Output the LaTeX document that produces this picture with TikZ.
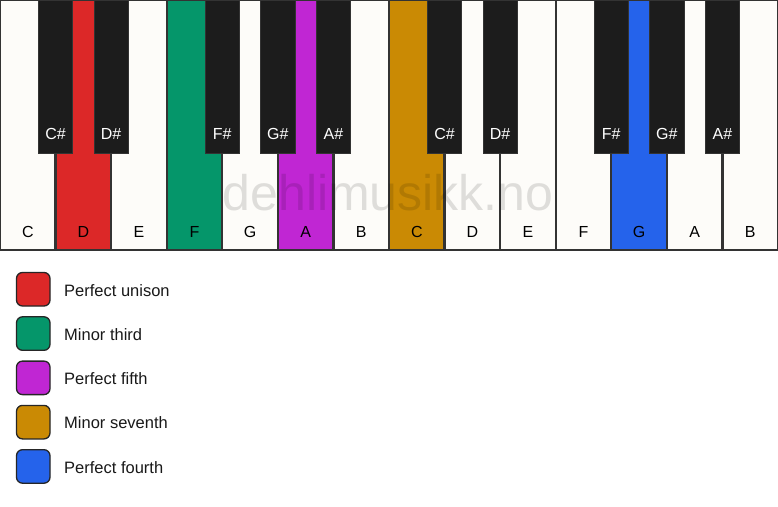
\documentclass[tikz,border=0pt]{standalone}
\usepackage{fontspec}
\setmainfont{Liberation Sans}
\definecolor{keywhite}{HTML}{FDFCF9}
\definecolor{keyblack}{HTML}{1C1C1C}
\definecolor{keyline}{HTML}{333333}
\definecolor{cred}{HTML}{DC2828}
\definecolor{cgreen}{HTML}{05966A}
\definecolor{cpurple}{HTML}{C026D3}
\definecolor{cgold}{HTML}{CA8A04}
\definecolor{cblue}{HTML}{2563EB}
\tikzset{
  whitekey/.style={draw=keyline, line width=1.1pt, fill=keywhite},
  blackkey/.style={fill=keyblack, draw=keyblack!90!white, line width=0.6pt},
  wlabel/.style={anchor=base, font=\fontsize{16}{19}\selectfont, text=black, inner sep=0pt},
  blabel/.style={anchor=base, font=\fontsize{16}{19}\selectfont, text=white, inner sep=0pt},
  swatch/.style={draw=black!85, line width=1.3pt, rounded corners=6pt},
  legtext/.style={anchor=base west, font=\fontsize{16.5}{20}\selectfont, text=black!90, inner sep=0pt},
  wmark/.style={anchor=base, font=\fontsize{50}{60}\selectfont, text=black, text opacity=0.12, inner sep=0pt}
}
\begin{document}
\begin{tikzpicture}[x=1pt,y=-1pt]
\useasboundingbox (0,0) rectangle (778,506);
\fill[white] (0,0) rectangle (778,506);
\pgfmathsetmacro{\W}{778/14}
% white keys
\foreach \i/\n/\c in {0/C/keywhite,1/D/cred,2/E/keywhite,3/F/cgreen,4/G/keywhite,5/A/cpurple,6/B/keywhite,7/C/cgold,8/D/keywhite,9/E/keywhite,10/F/keywhite,11/G/cblue,12/A/keywhite,13/B/keywhite}{
  \path[whitekey, fill=\c] ({\i*\W+0.55},0.55) rectangle ({(\i+1)*\W-0.55},250);
  \node[wlabel] (w\i) at ({(\i+0.5)*\W},237) {\n};
}
% watermark
\node[wmark] (wm) at (388,210) {dehlimusikk.no};
% black keys
\foreach \b/\n in {1/C\#,2/D\#,4/F\#,5/G\#,6/A\#,8/C\#,9/D\#,11/F\#,12/G\#,13/A\#}{
  \path[blackkey] ({\b*\W-17.2},0) rectangle ({\b*\W+17.2},153);
  \node[blabel] (b\b) at ({\b*\W},139) {\n};
}
% legend
\foreach \k/\c/\t in {0/cred/Perfect unison,1/cgreen/Minor third,2/cpurple/Perfect fifth,3/cgold/Minor seventh,4/cblue/Perfect fourth}{
  \path[swatch, fill=\c] (16.5,{272.5+\k*44.3}) rectangle (50,{306+\k*44.3});
  \node[legtext] (l\k) at (64,{296+\k*44.3}) {\t};
}
\end{tikzpicture}
\end{document}
